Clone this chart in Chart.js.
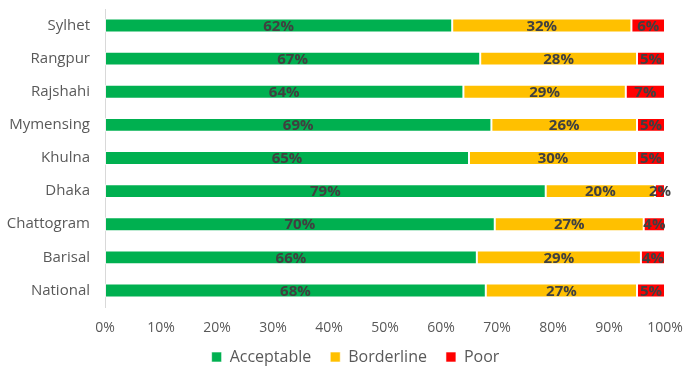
<!DOCTYPE html>
<html>
<head>
<meta charset="utf-8">
<script src="https://cdn.jsdelivr.net/npm/chart.js@4.4.1/dist/chart.umd.min.js"></script>
<style>
  html, body { margin: 0; padding: 0; background: #fff; }
  #wrap { width: 685px; height: 370px; }
</style>
</head>
<body>
<div id="wrap"><canvas id="grafiek" width="685" height="370"></canvas></div>
<script>
const divisies = ["Sylhet", "Rangpur", "Rajshahi", "Mymensing", "Khulna", "Dhaka", "Chattogram", "Barisal", "National"];
const acceptabel = [62, 67, 64, 69, 65, 78.7, 69.6, 66.4, 68];
const grensgeval = [32, 28, 29, 26, 30, 19.5, 26.6, 29.3, 27];
const slecht = [6, 5, 7, 5, 5, 1.8, 3.8, 4.3, 5];
const asTicks = [0, 10, 20, 30, 40, 50, 60, 70, 80, 90, 100];

const lettertype = "'Open Sans', 'Noto Sans', sans-serif";

// afgeronde percentages midden in elk stuk van de balk
const waardeLabels = {
    id: 'waardeLabels',
    afterDatasetsDraw(chart) {
        const ctx = chart.ctx;
        ctx.save();
        ctx.font = "bold 15px " + lettertype;
        ctx.fillStyle = "#404040";
        ctx.textAlign = "center";
        ctx.textBaseline = "middle";
        chart.data.datasets.forEach((ds, i) => {
            const meta = chart.getDatasetMeta(i);
            meta.data.forEach((bar, j) => {
                const x = (bar.x + bar.base) / 2;
                ctx.fillText(Math.round(ds.data[j]) + "%", x, bar.y + 1);
            });
        });
        ctx.restore();
    }
};

// legenda iets hoger en meer naar rechts zetten
const legendaVerschuiven = {
    id: 'legendaVerschuiven',
    afterLayout(chart) {
        const lg = chart.legend;
        if (lg) {
            lg.top -= 10;
            lg.bottom -= 10;
            lg.left += 23;
            lg.right += 23;
        }
    }
};

function geenPadding(scale) {
    scale.paddingTop = 0;
    scale.paddingBottom = 0;
    scale.paddingLeft = 0;
    scale.paddingRight = 0;
}

new Chart(document.getElementById('grafiek'), {
    type: 'bar',
    data: {
        labels: divisies,
        datasets: [
            { label: "Acceptable", data: acceptabel, backgroundColor: "#00B050" },
            { label: "Borderline", data: grensgeval, backgroundColor: "#FFC000" },
            { label: "Poor", data: slecht, backgroundColor: "#FF0000" }
        ].map(d => ({
            ...d,
            borderColor: "rgba(255,255,255,0.6)",
            borderWidth: 1,
            borderSkipped: false,
            categoryPercentage: 1,
            barPercentage: 0.42
        }))
    },
    options: {
        indexAxis: 'y',
        responsive: false,
        animation: false,
        layout: { padding: { top: 9, right: 20, bottom: -15, left: 0 } },
        plugins: {
            tooltip: { enabled: false },
            legend: {
                position: 'bottom',
                labels: {
                    boxWidth: 10,
                    boxHeight: 10,
                    padding: 19,
                    color: "#595959",
                    font: { family: lettertype, size: 16 }
                }
            }
        },
        scales: {
            x: {
                stacked: true,
                min: 0,
                max: 100,
                afterBuildTicks(scale) {
                    scale.ticks = asTicks.map(v => ({ value: v }));
                },
                afterFit(scale) {
                    scale.height = 33;
                    geenPadding(scale);
                },
                grid: { display: false, drawTicks: false },
                border: { display: false },
                ticks: {
                    padding: 13,
                    color: "#595959",
                    font: { family: lettertype, size: 14 },
                    callback: v => v + "%"
                }
            },
            y: {
                stacked: true,
                afterFit(scale) {
                    scale.width = 105;
                    geenPadding(scale);
                },
                grid: { display: false, drawTicks: false },
                border: { display: true, color: "#d9d9d9", width: 1 },
                ticks: {
                    padding: 15,
                    color: "#595959",
                    font: { family: lettertype, size: 15 }
                }
            }
        }
    },
    plugins: [waardeLabels, legendaVerschuiven]
});
</script>
</body>
</html>
